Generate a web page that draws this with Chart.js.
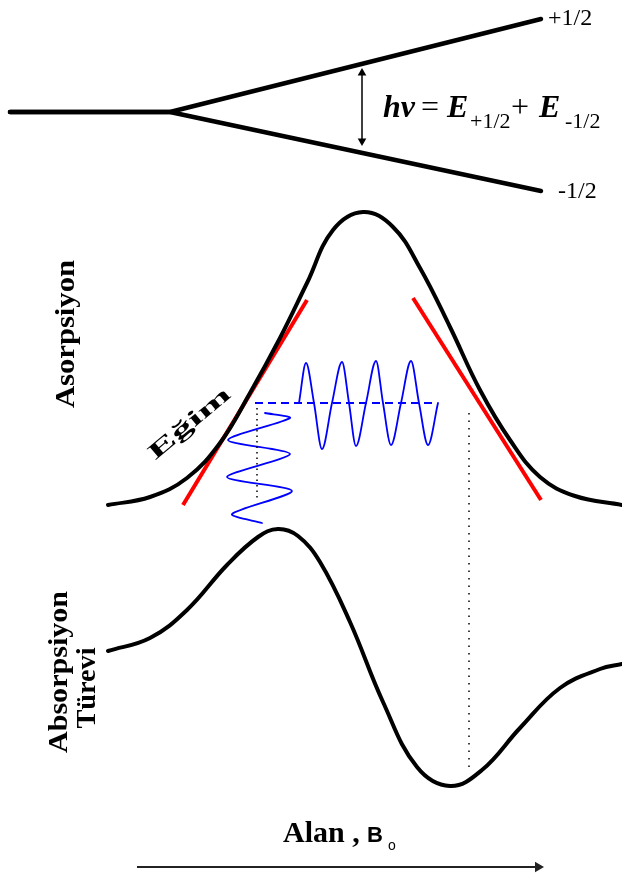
<!DOCTYPE html>
<html>
<head>
<meta charset="utf-8">
<script src="https://cdn.jsdelivr.net/npm/chart.js@4"></script>
<style>
  html, body { margin: 0; padding: 0; background: #fff; }
  #chart { display: block; }
</style>
</head>
<body>
<canvas id="chart" width="622" height="874"></canvas>
<script>
// Zeeman yarılması: enerji seviyeleri
const levelX = [10, 170, 541];
const levelUpY = [112, 112, 19];
const levelDownY = [112, 112, 191];
const arrowX = [362, 362];
const arrowY = [73, 141];

// Absorpsiyon eğrisi
const absX = [108, 150, 187, 220, 250, 280, 307, 333, 363, 393, 420, 450, 480, 510, 540, 575, 622];
const absY = [505, 497, 478, 443, 393, 338, 283, 230, 212, 227, 268, 327, 390, 440, 477, 496, 505];

// Eğim (teğet) doğruları
const tanLeftX = [183, 307];
const tanLeftY = [505, 300];
const tanRightX = [413, 541];
const tanRightY = [298, 500];

// Modülasyon ve sinyal dalgaları
const waveHX = [299, 306, 314, 322, 332, 342, 349, 356, 366, 376, 383, 391, 401, 411, 419, 428, 438];
const waveHY = [403, 363, 403, 449, 403, 362, 403, 446, 403, 361, 403, 445, 403, 361, 403, 445, 403];
const waveVX = [265, 290, 228, 290, 227, 292, 232, 262];
const waveVY = [413, 418, 440, 454, 477, 491, 514, 523];
const baseX = [255, 434];
const baseY = [403, 403];
const dotLeftX = [257, 257];
const dotLeftY = [408, 500];
const dotRightX = [469, 469];
const dotRightY = [413, 773];

// Absorpsiyon türevi
const derX = [108, 150, 187, 227, 258, 278, 298, 320, 350, 383, 417, 450, 482, 520, 560, 600, 622];
const derY = [651, 638, 610, 565, 537, 529, 536, 562, 622, 702, 767, 786, 770, 728, 688, 669, 664];

// Alan ekseni oku
const fieldX = [137, 538];
const fieldY = [867, 867];

const pts = (xs, ys) => xs.map((x, i) => ({ x: x, y: ys[i] }));

function line(xs, ys, color, width, extra) {
  return Object.assign({
    data: pts(xs, ys),
    showLine: true,
    borderColor: color,
    borderWidth: width,
    pointRadius: 0,
    borderCapStyle: 'round',
    borderJoinStyle: 'round',
    tension: 0
  }, extra || {});
}

function drawText(ctx, text, x, y, o) {
  ctx.save();
  ctx.font = o.font;
  ctx.fillStyle = o.color || '#000';
  ctx.textAlign = o.align || 'left';
  ctx.textBaseline = o.baseline || 'alphabetic';
  ctx.translate(x, y);
  if (o.rotate) ctx.rotate(o.rotate * Math.PI / 180);
  if (o.fit) {
    const w = ctx.measureText(text).width;
    ctx.scale(o.fit / w, 1);
  }
  ctx.fillText(text, 0, 0);
  ctx.restore();
}

const labelPlugin = {
  id: 'labels',
  afterDatasetsDraw(chart) {
    const ctx = chart.ctx;
    const sx = v => chart.scales.x.getPixelForValue(v);
    const sy = v => chart.scales.y.getPixelForValue(v);
    const serif = '"Liberation Serif", "Times New Roman", serif';
    const sans = '"Liberation Sans", Arial, sans-serif';

    drawText(ctx, '+1/2', sx(548), sy(25), { font: '24px ' + serif });
    drawText(ctx, '-1/2', sx(558), sy(198), { font: '24px ' + serif });

    drawText(ctx, 'hν', sx(383), sy(117), { font: 'bold italic 32px ' + serif });
    drawText(ctx, '=', sx(421), sy(117), { font: '32px ' + serif });
    drawText(ctx, 'E', sx(447), sy(117), { font: 'bold italic 32px ' + serif });
    drawText(ctx, '+1/2', sx(470), sy(128), { font: '22px ' + serif });
    drawText(ctx, '+', sx(511), sy(117), { font: '32px ' + serif });
    drawText(ctx, 'E', sx(539), sy(117), { font: 'bold italic 32px ' + serif });
    drawText(ctx, '-1/2', sx(565), sy(128), { font: '22px ' + serif });

    drawText(ctx, 'Asorpsiyon', sx(67), sy(334), { font: 'bold 28px ' + serif, rotate: -90, align: 'center', baseline: 'middle', fit: 148 });
    drawText(ctx, 'Absorpsiyon', sx(60), sy(672), { font: 'bold 28px ' + serif, rotate: -90, align: 'center', baseline: 'middle', fit: 162 });
    drawText(ctx, 'Türevi', sx(88), sy(688), { font: 'bold 28px ' + serif, rotate: -90, align: 'center', baseline: 'middle', fit: 81 });
    drawText(ctx, 'Eğim', sx(190), sy(424), { font: 'bold 22px ' + serif, rotate: -40, align: 'center', baseline: 'middle', fit: 100 });

    drawText(ctx, 'Alan ,', sx(283), sy(842), { font: 'bold 30px ' + serif });
    drawText(ctx, 'B', sx(367), sy(842), { font: 'bold 22px ' + sans });
    drawText(ctx, 'o', sx(388), sy(850), { font: '14px ' + sans });
  }
};

new Chart(document.getElementById('chart'), {
  type: 'scatter',
  data: {
    datasets: [
      line(levelX, levelUpY, '#000', 4.5),
      line(levelX, levelDownY, '#000', 4.5),
      line(arrowX, arrowY, '#000', 1.5, {
        pointStyle: 'triangle', pointRadius: 5, pointRotation: [0, 180],
        pointBackgroundColor: '#000', pointBorderColor: '#000', pointBorderWidth: 0
      }),
      line(dotLeftX, dotLeftY, '#000', 1.5, { borderDash: [1.5, 4], borderCapStyle: 'butt' }),
      line(dotRightX, dotRightY, '#000', 1.5, { borderDash: [1.5, 6], borderCapStyle: 'butt' }),
      line(absX, absY, '#000', 4, { tension: 0.4 }),
      line(tanLeftX, tanLeftY, '#ff0000', 4, { borderCapStyle: 'butt' }),
      line(tanRightX, tanRightY, '#ff0000', 4, { borderCapStyle: 'butt' }),
      line(baseX, baseY, '#0000ff', 1.8, { borderDash: [8, 5], borderCapStyle: 'butt' }),
      line(waveHX, waveHY, '#0000ff', 1.8, { cubicInterpolationMode: 'monotone' }),
      line(waveVX, waveVY, '#0000ff', 1.8, { tension: 0.25 }),
      line(derX, derY, '#000', 4, { tension: 0.4 }),
      line(fieldX, fieldY, '#222', 2, {
        borderCapStyle: 'butt',
        pointStyle: 'triangle', pointRadius: [0, 6], pointRotation: [0, 90],
        pointBackgroundColor: '#222', pointBorderColor: '#222', pointBorderWidth: 0
      })
    ]
  },
  options: {
    responsive: false,
    animation: false,
    devicePixelRatio: 1,
    layout: { padding: 0, autoPadding: false },
    plugins: { legend: { display: false }, tooltip: { enabled: false } },
    scales: {
      x: { type: 'linear', min: 0, max: 622, display: false },
      y: { type: 'linear', min: 0, max: 874, reverse: true, display: false }
    }
  },
  plugins: [labelPlugin]
});
</script>
</body>
</html>
